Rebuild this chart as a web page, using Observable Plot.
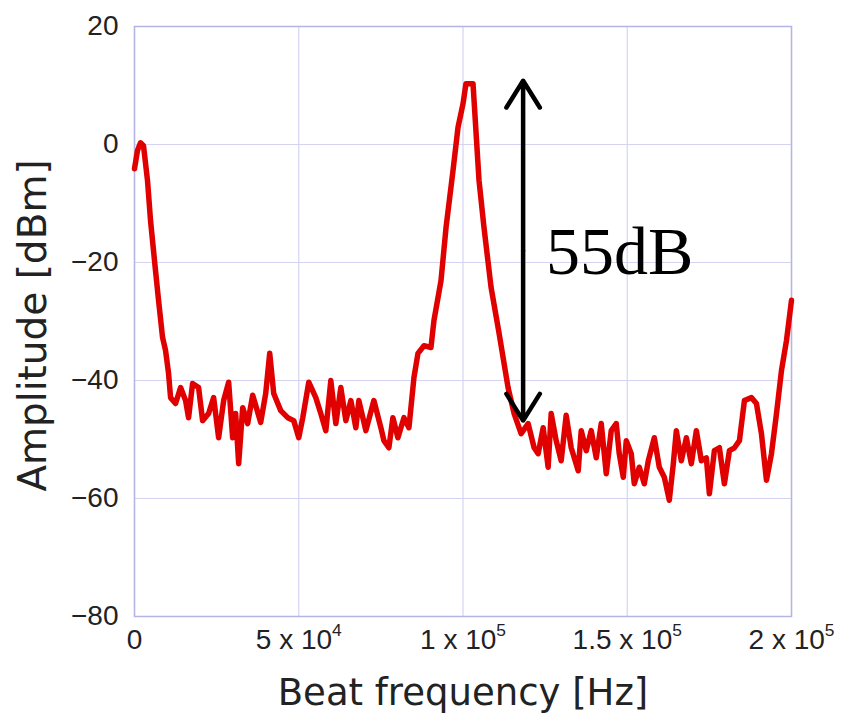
<!DOCTYPE html>
<html>
<head>
<meta charset="utf-8">
<script src="https://cdn.jsdelivr.net/npm/d3@7"></script>
<script src="https://cdn.jsdelivr.net/npm/@observablehq/plot@0.6"></script>
<style>
  html, body { margin: 0; padding: 0; background: #fff; }
  svg { display: block; }
</style>
</head>
<body>
<div id="chart"></div>
<script>
// Beat frequency (Hz)
const freq = [0, 915, 1830, 2740, 3960, 4880, 6400, 7320, 8540, 9450, 10370, 10980, 12500, 14030, 15550, 16460, 17680, 19510, 20730, 22560, 24090, 25610, 27140, 28660, 29880, 30790, 31710, 32930, 34450, 35980, 38420, 39940, 41160, 42380, 44520, 46650, 48480, 50000, 51220, 53050, 55190, 56710, 58240, 59760, 61290, 62810, 64340, 65860, 67380, 68300, 70430, 72870, 75000, 75920, 77440, 78660, 80190, 82020, 83540, 85070, 86290, 88120, 90250, 91170, 93300, 94830, 96960, 98480, 100000, 100900, 103050, 104880, 106400, 108540, 110980, 113720, 115560, 117690, 119830, 121650, 122880, 124400, 125920, 126840, 128370, 129890, 131410, 132940, 135070, 135990, 137510, 139040, 140560, 142080, 143610, 145130, 146650, 147560, 148790, 149700, 151220, 152140, 153660, 155190, 156410, 158240, 159760, 161280, 162800, 164020, 164940, 166460, 167990, 169510, 171040, 172560, 174080, 175000, 176520, 178050, 179570, 181100, 182620, 184150, 185670, 187800, 189330, 190850, 192380, 193900, 195430, 196950, 198480, 200000];
// Amplitude (dBm)
const amplitude = [-4.1, -1.0, 0.3, -0.2, -6.1, -12.9, -21.4, -26.4, -32.7, -34.9, -38.8, -42.9, -43.9, -41.2, -43.4, -46.3, -40.5, -41.2, -46.8, -45.6, -42.9, -49.7, -43.4, -40.3, -49.7, -45.6, -54.1, -44.6, -47.3, -42.5, -47.1, -42.2, -35.4, -42.2, -45.1, -46.3, -46.8, -49.7, -46.3, -40.3, -42.9, -45.6, -48.5, -40.0, -47.3, -41.2, -46.8, -43.4, -48.0, -43.4, -48.5, -43.4, -48.0, -50.2, -51.4, -46.3, -49.7, -46.3, -48.0, -39.5, -35.4, -34.1, -34.4, -29.8, -23.1, -14.1, -4.4, 2.9, 6.9, 10.3, 10.3, -6.1, -14.1, -24.2, -32.0, -41.2, -45.6, -49.0, -47.3, -51.4, -52.4, -48.0, -54.7, -45.6, -50.2, -53.6, -45.9, -51.4, -55.3, -48.5, -51.9, -48.5, -53.1, -47.3, -55.8, -48.5, -47.3, -52.4, -56.4, -50.2, -52.4, -57.5, -54.7, -57.5, -53.6, -49.7, -54.7, -56.4, -60.3, -54.1, -48.5, -53.6, -49.7, -54.1, -48.5, -53.6, -53.1, -59.2, -51.9, -51.4, -57.5, -51.9, -51.4, -50.2, -43.4, -42.9, -43.9, -49.0, -56.9, -52.4, -45.6, -38.3, -33.2, -26.4];

const xTicks = [0, 50000, 100000, 150000, 200000];
const xTickMantissa = ["0", "5 x 10", "1 x 10", "1.5 x 10", "2 x 10"];
const xTickExponent = ["", "4", "5", "5", "5"];
const yTicks = [-80, -60, -40, -20, 0, 20];

// 55 dB annotation
const arrowX = 118300;
const arrowTop = 10.8;
const arrowBottom = -46.8;
const arrowMid = -18;
const annotationText = "55dB";
const annotationX = 125300;
const annotationY = -18.3;

const xLabel = "Beat frequency [Hz]";
const yLabel = "Amplitude [dBm]";

const data = freq.map((f, i) => ({f, a: amplitude[i]}));
const arrows = [
  {x: arrowX, y1: arrowMid, y2: arrowTop},
  {x: arrowX, y1: arrowMid, y2: arrowBottom}
];

const font = "'Liberation Sans', Arial, sans-serif";
const labelFont = "'DejaVu Sans', sans-serif";

const chart = Plot.plot({
  width: 841,
  height: 717,
  marginLeft: 134,
  marginRight: 50,
  marginTop: 26,
  marginBottom: 101,
  style: {fontFamily: font, background: "#fff", color: "#222"},
  x: {domain: [0, 200000]},
  y: {domain: [-80, 20]},
  marks: [
    Plot.ruleX(xTicks, {stroke: "#d4d4f2", strokeWidth: 1.2}),
    Plot.ruleY(yTicks, {stroke: "#d4d4f2", strokeWidth: 1.2}),
    Plot.frame({stroke: "#b4b4e6", strokeWidth: 1.5}),
    Plot.axisX({ticks: xTicks, tickFormat: (d) => { const i = xTicks.indexOf(d); return xTickMantissa[i] + (xTickExponent[i] ? "^" + xTickExponent[i] : ""); }, tickSize: 0, tickPadding: 13, fontSize: 28, label: null}),
    Plot.axisY({ticks: yTicks, tickSize: 0, tickPadding: 16, fontSize: 28, label: null, tickFormat: d => d < 0 ? "\u2212" + Math.abs(d) : String(d)}),
    Plot.line(data, {x: "f", y: "a", stroke: "#e00000", strokeWidth: 5.5, strokeLinejoin: "round", strokeLinecap: "round"}),
    Plot.arrow(arrows, {x: "x", y1: "y1", y2: "y2", stroke: "#000", strokeWidth: 4.5, headLength: 10.5, headAngle: 64}),
    Plot.text([annotationText], {x: annotationX, y: annotationY, text: d => d, textAnchor: "start", lineAnchor: "middle", fontSize: 68, fontFamily: "'Liberation Serif', 'DejaVu Serif', serif", fill: "#000"}),
    Plot.text([xLabel], {frameAnchor: "bottom", text: d => d, dy: 77, lineAnchor: "middle", fontSize: 37, fontFamily: labelFont, fill: "#222"}),
    Plot.text([yLabel], {frameAnchor: "left", text: d => d, dx: -101, dy: 4, rotate: -90, textAnchor: "middle", lineAnchor: "middle", fontSize: 39, fontFamily: labelFont, fill: "#222"})
  ]
});

// Render exponents as raised superscripts
d3.select(chart).selectAll('g[aria-label="x-axis tick label"] text').each(function () {
  const t = d3.select(this);
  const s = t.text();
  const k = s.indexOf("^");
  if (k < 0) return;
  t.text(null);
  t.append("tspan").text(s.slice(0, k));
  t.append("tspan").attr("dy", "-0.8em").attr("font-size", "0.62em").text(s.slice(k + 1));
});

document.getElementById("chart").appendChild(chart);
</script>
</body>
</html>
